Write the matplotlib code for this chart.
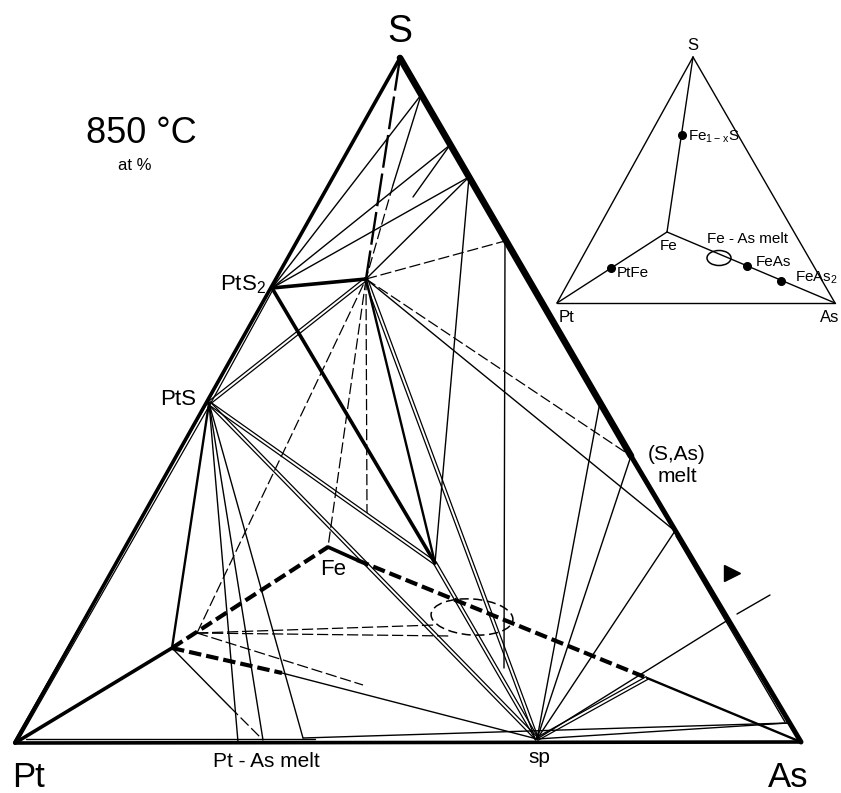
import matplotlib.pyplot as plt
from matplotlib.patches import Ellipse
import numpy as np

plt.rcParams['font.family'] = ['Liberation Sans', 'DejaVu Sans']
plt.rcParams['mathtext.fontset'] = 'custom'
plt.rcParams['mathtext.rm'] = 'Liberation Sans'

# nodes of the main diagram, in picture units (x right, y down)
node_names = ['S', 'Pt', 'As', 'PtS2', 'PtS', 'A', 'B', 'Fe', 'C', 'D', 'sp', 'E',
              'e1', 'e2', 'e3', 'e4', 'e5', 'e6', 'e7', 'e8', 'e9',
              'q1', 'q2', 'q3', 'q4', 'v1', 'f1', 'c1', 'm1', 'm2', 'm3',
              'r1', 'r2', 'a1', 'x1', 'x2', 'b1', 'b2', 'k1', 'k2', 'i1', 'i2']
node_x = [400, 15, 801, 272, 209, 366, 435, 328, 172, 197, 537, 647,
          421, 450, 469, 505, 600, 631, 675, 728, 788,
          238, 263, 303, 315, 504, 357, 282, 435, 450, 363,
          393, 413, 367, 737, 770, 26, 315, 230, 265, 676, 785]
node_y = [58, 743, 742, 288, 403, 279, 563, 547, 648, 633, 739, 678,
          95, 145, 177, 241, 402, 456, 531, 620, 723,
          742, 740, 738, 739, 668, 560, 673, 625, 636, 685,
          185, 197, 513, 614, 595, 739, 739, 707, 738, 536, 722]
P = dict(zip(node_names, zip(node_x, node_y)))

# line groups (pairs of nodes)
heavy_lines = [('Pt', 'S'), ('Pt', 'As'), ('PtS2', 'A'), ('PtS2', 'B'), ('Pt', 'C'),
               ('Fe', 'f1')]
medium_lines = [('PtS', 'C'), ('E', 'As'), ('A', 'B')]
medium_broken = [('S', 'A')]
heavy_dashed = [('C', 'Fe'), ('f1', 'E'), ('C', 'c1')]
thin_lines = [('PtS2', 'e1'), ('PtS2', 'e2'), ('PtS2', 'e3'), ('A', 'e3'), ('e4', 'v1'),
              ('e3', 'B'), ('A', 'e7'), ('e5', 'sp'), ('e6', 'sp'), ('e7', 'sp'),
              ('e8', 'sp'), ('e9', 'sp'), ('q3', 'e9'), ('PtS', 'q1'), ('PtS', 'q2'),
              ('PtS', 'q3'), ('c1', 'sp'), ('e1', 'r1'), ('e2', 'r2'), ('x1', 'x2'),
              ('b1', 'b2'), ('i1', 'i2'), ('C', 'k1')]
double_lines = [('PtS', 'A'), ('PtS', 'B'), ('PtS', 'sp'), ('A', 'sp'), ('B', 'sp'),
                ('E', 'sp'), ('Pt', 'PtS'), ('PtS', 'PtS2')]
broken_lines = [('A', 'e4'), ('A', 'e6'), ('A', 'Fe'), ('A', 'a1'), ('D', 'A'),
                ('D', 'm1'), ('D', 'm2'), ('D', 'm3'), ('r1', 'A'), ('k1', 'q2')]

# inset tetrahedron
inset_names = ['S', 'Pt', 'As', 'Fe', 'FeS', 'PtFe', 'FeAs', 'FeAs2', 'melt']
inset_x = [693, 557, 835, 667, 682, 611, 747, 781, 719]
inset_y = [57, 303, 303, 232, 135, 268, 266, 281, 258]
Q = dict(zip(inset_names, zip(inset_x, inset_y)))
inset_lines = [('Pt', 'S'), ('S', 'As'), ('Pt', 'As'), ('S', 'Fe'), ('Pt', 'Fe'), ('Fe', 'As')]
inset_dots = ['FeS', 'PtFe', 'FeAs', 'FeAs2']

fig = plt.figure(figsize=(8.41, 7.93), dpi=100)
ax = fig.add_axes([0, 0, 1, 1])
ax.set_xlim(0, 841)
ax.set_ylim(793, 0)
ax.axis('off')


def seg(a, b, lw, **kw):
    ax.plot([a[0], b[0]], [a[1], b[1]], color='black', lw=lw,
            solid_capstyle='round', **kw)


for a, b in heavy_lines:
    seg(P[a], P[b], 2.6)
seg(P['S'], P['e6'], 4.8)
seg(P['e6'], P['As'], 3.6)
for a, b in medium_lines:
    seg(P[a], P[b], 1.7)
for a, b in medium_broken:
    seg(P[a], P[b], 1.7, linestyle=(0, (14, 2.5)))
for a, b in heavy_dashed:
    seg(P[a], P[b], 3.0, linestyle=(0, (3, 1.2)))
for a, b in thin_lines:
    seg(P[a], P[b], 1.0)
for a, b in double_lines:
    pa, pb = np.array(P[a], float), np.array(P[b], float)
    d = pb - pa
    n = np.array([-d[1], d[0]]) / np.hypot(*d) * 1.6
    seg(pa + n, pb + n, 0.9)
    seg(pa - n, pb - n, 0.9)
for a, b in broken_lines:
    seg(P[a], P[b], 0.9, linestyle=(0, (9, 3)))

# Fe-As melt field in the section
ax.add_patch(Ellipse((472, 617), 82, 36, angle=4, fill=False, lw=1.1,
                     linestyle=(0, (6, 3)), color='black'))
ax.plot([732], [573], marker='>', color='black', markersize=11)

ax.text(400, 42, 'S', fontsize=27, ha='center', va='baseline')
ax.text(12, 787, 'Pt', fontsize=25, ha='left', va='baseline')
ax.text(768, 787, 'As', fontsize=25, ha='left', va='baseline')
ax.text(86, 143, '850 °C', fontsize=26, ha='left', va='baseline')
ax.text(118, 170, 'at %', fontsize=12, ha='left', va='baseline')
ax.text(266, 290, r'PtS$\mathregular{_2}$', fontsize=16, ha='right', va='baseline')
ax.text(196, 405, 'PtS', fontsize=16, ha='right', va='baseline')
ax.text(320, 575, 'Fe', fontsize=16, ha='left', va='baseline')
ax.text(213, 767, 'Pt - As melt', fontsize=15, ha='left', va='baseline')
ax.text(539, 763, 'sp', fontsize=15, ha='center', va='baseline')
ax.text(677, 460, '(S,As)', fontsize=15, ha='center', va='baseline')
ax.text(677, 482, 'melt', fontsize=15, ha='center', va='baseline')

for a, b in inset_lines:
    seg(Q[a], Q[b], 1.0)
for k in inset_dots:
    ax.plot(*Q[k], marker='o', color='black', markersize=5.5)
ax.add_patch(Ellipse(Q['melt'], 24, 15, fill=False, lw=1.1, color='black'))
ax.text(693, 50, 'S', fontsize=12, ha='center', va='baseline')
ax.text(559, 322, 'Pt', fontsize=12, ha='left', va='baseline')
ax.text(820, 322, 'As', fontsize=12, ha='left', va='baseline')
ax.text(660, 250, 'Fe', fontsize=11, ha='left', va='baseline')
ax.text(688, 141, r'Fe$\mathregular{_{1-x}}$S', fontsize=11, ha='left', va='baseline')
ax.text(617, 277, 'PtFe', fontsize=11, ha='left', va='baseline')
ax.text(707, 243, 'Fe - As melt', fontsize=11, ha='left', va='baseline')
ax.text(756, 266, 'FeAs', fontsize=11, ha='left', va='baseline')
ax.text(795, 282, r'FeAs$\mathregular{_2}$', fontsize=11, ha='left', va='baseline')

fig.savefig('out.png', dpi=100)
